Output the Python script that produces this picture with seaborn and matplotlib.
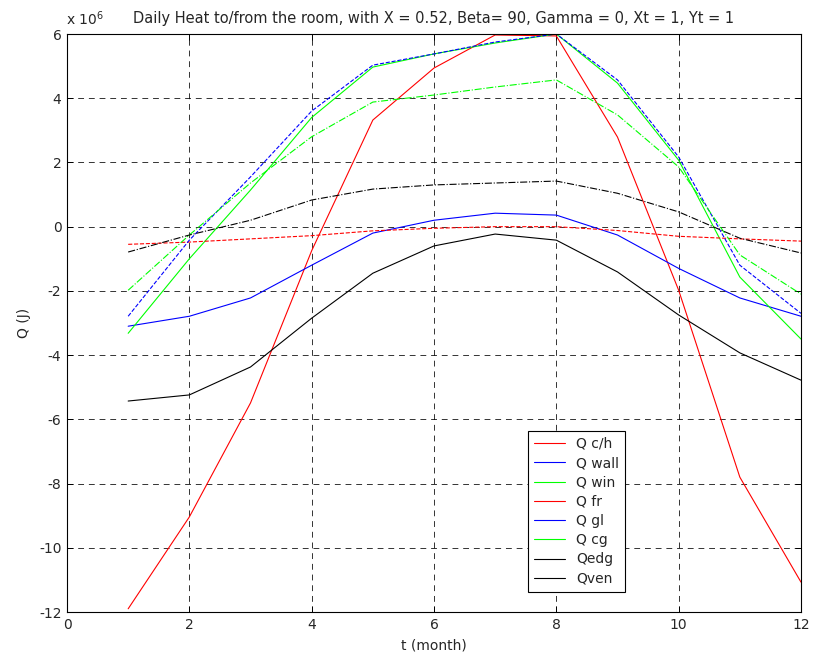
import numpy as np
import pandas as pd
import matplotlib
matplotlib.use("Agg")
import matplotlib.pyplot as plt
import seaborn as sns
from matplotlib.lines import Line2D

months = [1, 2, 3, 4, 5, 6, 7, 8, 9, 10, 11, 12]
# values in units of 1e6 J
q_ch   = [-11.9, -9.04, -5.49, -0.75, 3.32, 4.94, 5.97, 5.94, 2.79, -1.98, -7.8, -11.07]
q_wall = [-3.1, -2.79, -2.22, -1.2, -0.2, 0.2, 0.42, 0.36, -0.26, -1.3, -2.22, -2.79]
q_win  = [-3.32, -1.0, 1.14, 3.4, 4.97, 5.38, 5.72, 6.0, 4.47, 2.07, -1.57, -3.5]
q_fr   = [-0.55, -0.48, -0.38, -0.28, -0.13, -0.05, 0.0, 0.0, -0.12, -0.3, -0.38, -0.45]
q_gl   = [-2.79, -0.42, 1.55, 3.6, 5.03, 5.38, 5.75, 6.0, 4.57, 2.17, -1.2, -2.7]
q_cg   = [-1.98, -0.26, 1.36, 2.8, 3.88, 4.1, 4.35, 4.57, 3.48, 1.86, -0.88, -2.1]
q_edg  = [-0.79, -0.26, 0.2, 0.83, 1.17, 1.3, 1.36, 1.42, 1.04, 0.46, -0.36, -0.82]
q_ven  = [-5.43, -5.24, -4.37, -2.85, -1.45, -0.6, -0.23, -0.42, -1.41, -2.75, -3.93, -4.78]

names = ["Q c/h", "Q wall", "Q win", "Q fr", "Q gl", "Q cg", "Qedg", "Qven"]
series = [q_ch, q_wall, q_win, q_fr, q_gl, q_cg, q_edg, q_ven]
colors = ["#ff0000", "#0000ff", "#00ff00", "#ff0000", "#0000ff", "#00ff00", "#000000", "#000000"]
styles = ["-", "-", "-", "--", "--", "-.", "-.", "-"]

sns.set_style("white")
plt.rcParams["font.family"] = ["DejaVu Sans"]
plt.rcParams["font.size"] = 10
plt.rcParams["axes.unicode_minus"] = False

fig = plt.figure(figsize=(8.15, 6.63), dpi=100)
ax = fig.add_axes([67/815, 1 - 612/663, (801-67)/815, (612-34)/663])

for name, vals, c, ls in zip(names, series, colors, styles):
    df = pd.DataFrame({"t": months, "Q": vals})
    sns.lineplot(data=df, x="t", y="Q", ax=ax, color=c, linestyle=ls,
                 linewidth=0.8, legend=False)

ax.set_xlim(0, 12)
ax.set_ylim(-12, 6)
ax.set_xticks(range(0, 13, 2))
ax.set_yticks(range(-12, 7, 2))
ax.grid(True, color="black", linestyle=(0, (6, 5)), linewidth=0.7, alpha=0.8)
ax.tick_params(direction="in", length=4, width=0.7, color="black",
               labelsize=10, pad=4, top=True, right=True,
               bottom=True, left=True)
for s in ax.spines.values():
    s.set_color("black")
    s.set_linewidth(0.8)

ax.set_xlabel("t (month)", fontsize=10, labelpad=5)
ax.set_ylabel("Q (J)", fontsize=10, labelpad=6)
ax.set_title("Daily Heat to/from the room, with X = 0.52, Beta= 90, Gamma = 0, Xt = 1, Yt = 1",
             fontsize=10.5, pad=8)
ax.text(-0.001, 1.010, r"x 10$^{6}$", transform=ax.transAxes, fontsize=10,
        ha="left", va="bottom")

handles = [Line2D([0], [0], color=c, linewidth=0.8) for c in colors]
leg = ax.legend(handles, names, loc="lower left",
                bbox_to_anchor=((528-67)/734, (612-592)/578),
                frameon=True, fancybox=False, framealpha=1,
                edgecolor="black", fontsize=10, handlelength=2.2,
                borderpad=0.45, labelspacing=0.38, handletextpad=0.8,
                borderaxespad=0)
leg.get_frame().set_linewidth(0.8)

fig.savefig("out.png", dpi=100)
